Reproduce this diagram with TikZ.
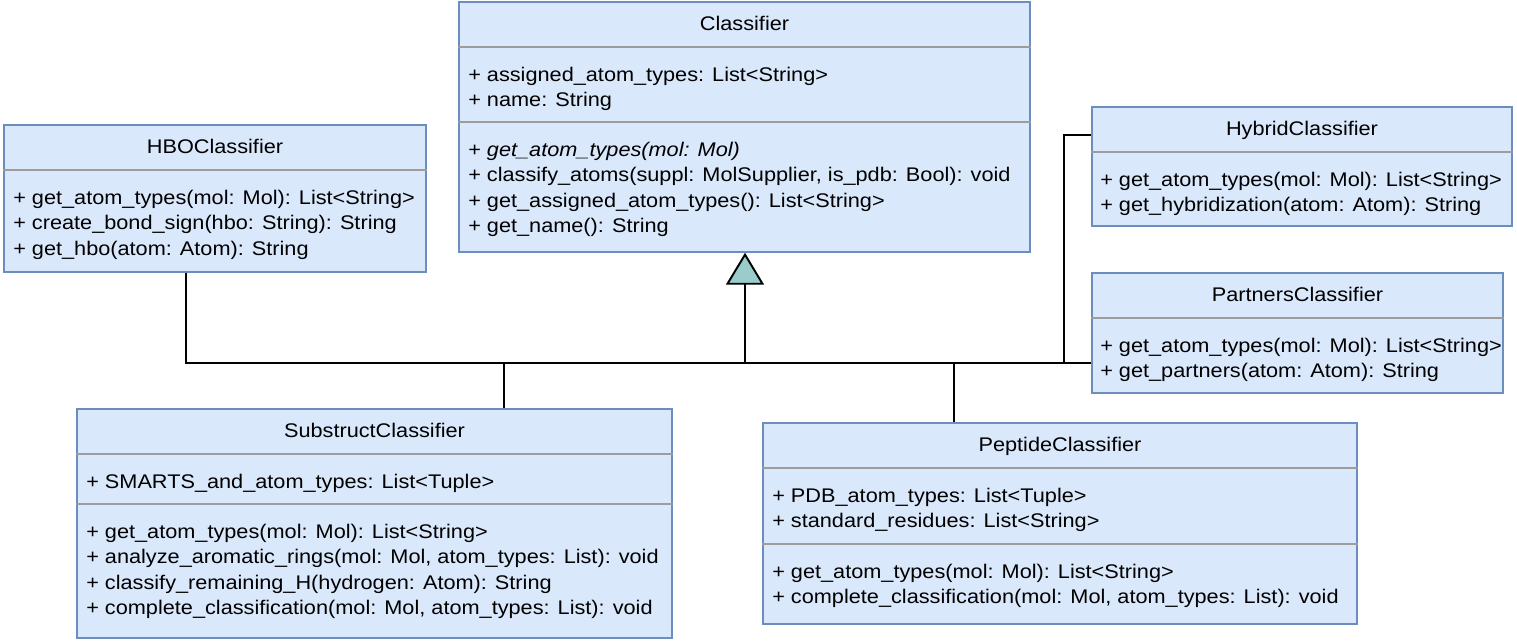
\documentclass[tikz,border=0pt]{standalone}
\usepackage{fontspec}
\setmainfont{Liberation Sans}[FakeStretch=1.1]
\usetikzlibrary{arrows.meta, fit, calc, positioning}
\definecolor{clsfill} {HTML}{DAE8FC}
\definecolor{clsline} {HTML}{6C8EBF}
\definecolor{sepgray} {HTML}{9C9C9C}
\definecolor{trifill} {HTML}{9ACCCC}
\tikzset{
  cls/.style  = {draw=clsline, fill=clsfill, line width=1.1pt, inner sep=0pt},
  ttl/.style  = {anchor=base, inner sep=0pt},
  mem/.style  = {anchor=north west, align=left, inner sep=0pt},
  sep/.style  = {draw=sepgray, line width=1.3pt},
  link/.style = {draw=black, line width=1.45pt},
  gen/.style  = {link, line join=miter,
                 -{Triangle[fill=trifill, length=24pt, width=28.5pt]}},
}
\begin{document}
\begin{tikzpicture}[x=0.75pt, y=-0.75pt, font=\fontsize{14.8}{19.1}\selectfont]
  \useasboundingbox (0,0) rectangle (1517,643);

  % base class
  \node[cls, fit={(459,2) (1030,252)}] (classifier) {};
  \node[ttl] at ($(classifier.north)+(0,29.5)$) {Classifier};
  \draw[sep] ($(classifier.north west)+(0,46)$) -- ($(classifier.north east)+(0,46)$);
  \node[mem] at (468,63) {\strut+ assigned\_atom\_types: List<String>\\
    + name: String};
  \draw[sep] ($(classifier.north west)+(0,121)$) -- ($(classifier.north east)+(0,121)$);
  \node[mem] at (468,138) {\strut+ \textit{get\_atom\_types(mol: Mol)}\\
    + classify\_atoms(suppl: MolSupplier, is\_pdb: Bool): void\\
    + get\_assigned\_atom\_types(): List<String>\\
    + get\_name(): String};

  % subclasses
  \node[cls, fit={(4,125) (426,272)}] (hbo) {};
  \node[ttl] at ($(hbo.north)+(0,29.5)$) {HBOClassifier};
  \draw[sep] ($(hbo.north west)+(0,46)$) -- ($(hbo.north east)+(0,46)$);
  \node[mem] at (13,186) {\strut+ get\_atom\_types(mol: Mol): List<String>\\
    + create\_bond\_sign(hbo: String): String\\
    + get\_hbo(atom: Atom): String};

  \node[cls, fit={(1092,107) (1512,226)}] (hybrid) {};
  \node[ttl] at ($(hybrid.north)+(0,29.5)$) {HybridClassifier};
  \draw[sep] ($(hybrid.north west)+(0,46)$) -- ($(hybrid.north east)+(0,46)$);
  \node[mem] at (1100,168) {\strut+ get\_atom\_types(mol: Mol): List<String>\\
    + get\_hybridization(atom: Atom): String};

  \node[cls, fit={(1092,273) (1503,393)}] (partners) {};
  \node[ttl] at ($(partners.north)+(0,29.5)$) {PartnersClassifier};
  \draw[sep] ($(partners.north west)+(0,46)$) -- ($(partners.north east)+(0,46)$);
  \node[mem] at (1100,334) {\strut+ get\_atom\_types(mol: Mol): List<String>\\
    + get\_partners(atom: Atom): String};

  \node[cls, fit={(77,409) (672,638)}] (substruct) {};
  \node[ttl] at ($(substruct.north)+(0,29.5)$) {SubstructClassifier};
  \draw[sep] ($(substruct.north west)+(0,46)$) -- ($(substruct.north east)+(0,46)$);
  \node[mem] at (86,470) {\strut+ SMARTS\_and\_atom\_types: List<Tuple>};
  \draw[sep] ($(substruct.north west)+(0,96)$) -- ($(substruct.north east)+(0,96)$);
  \node[mem] at (86,520) {\strut+ get\_atom\_types(mol: Mol): List<String>\\
    + analyze\_aromatic\_rings(mol: Mol, atom\_types: List): void\\
    + classify\_remaining\_H(hydrogen: Atom): String\\
    + complete\_classification(mol: Mol, atom\_types: List): void};

  \node[cls, fit={(763,423) (1357,624)}] (peptide) {};
  \node[ttl] at ($(peptide.north)+(0,29.5)$) {PeptideClassifier};
  \draw[sep] ($(peptide.north west)+(0,46)$) -- ($(peptide.north east)+(0,46)$);
  \node[mem] at (772,484) {\strut+ PDB\_atom\_types: List<Tuple>\\
    + standard\_residues: List<String>};
  \draw[sep] ($(peptide.north west)+(0,122)$) -- ($(peptide.north east)+(0,122)$);
  \node[mem] at (772,560) {\strut+ get\_atom\_types(mol: Mol): List<String>\\
    + complete\_classification(mol: Mol, atom\_types: List): void};

  % inheritance connectors
  \coordinate (bus)    at (745,363);
  \coordinate (hbotap) at ($(hbo.south west)+(183,0)$);
  \coordinate (subtap) at ($(substruct.north west)+(428,0)$);
  \coordinate (peptap) at ($(peptide.north west)+(192,0)$);
  \coordinate (hybtap) at ($(hybrid.north west)+(0,29)$);
  \coordinate (knee)   at (1064,363);

  \draw[link] (hbotap) |- (bus);
  \draw[link] (subtap) -- (subtap |- bus);
  \draw[link] (peptap) -- (peptap |- bus);
  \draw[link] (hybtap) -| (knee);
  \draw[link] (partners.west |- bus) -- (bus);
  \draw[gen]  (bus) -- (bus |- classifier.south);

\end{tikzpicture}
\end{document}
